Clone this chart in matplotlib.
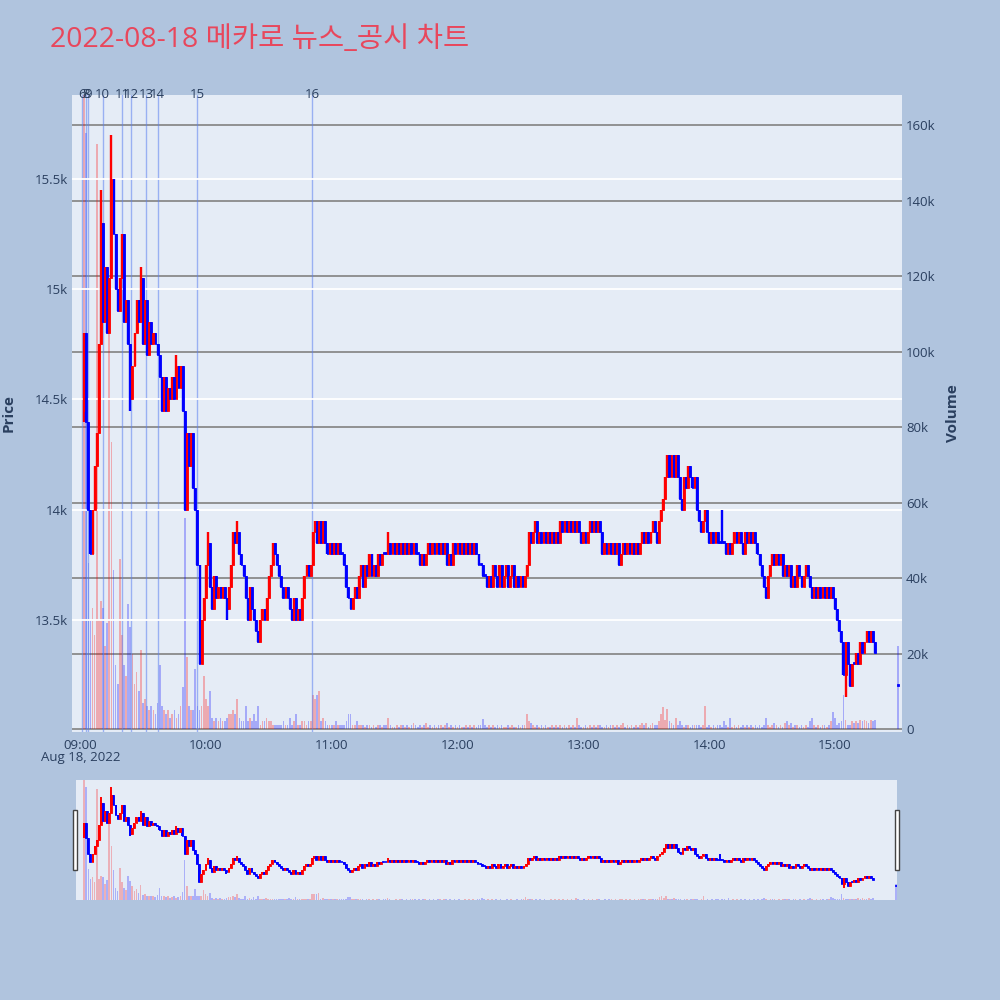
import matplotlib.pyplot as plt
from matplotlib.patches import Rectangle

plt.rcParams['font.family'] = ['Open Sans', 'DejaVu Sans']

title = "2022-08-18 메카로 뉴스_공시 차트"

# minutes after 09:00 (last bar = 15:30 closing auction)
minutes = list(range(2, 380)) + [390]
first_open = 14450
closes = [
    14800, 14400, 14000, 13800, 14000, 14200, 14350, 14750,
    15300, 14850, 15100, 14800, 15050, 15500, 15250, 15000, 14900, 15050,
    15250, 14850, 14950, 14750, 14500, 14650, 14800, 14950, 14850, 15050,
    14750, 14950, 14700, 14850, 14750, 14800, 14750, 14700, 14600, 14450,
    14600, 14450, 14550, 14500, 14600, 14500, 14650, 14550, 14650, 14450,
    14000, 14350, 14200, 14350, 14100, 14000, 13750, 13300, 13500, 13600,
    13750, 13850, 13650, 13550, 13700, 13600, 13650, 13600, 13650, 13600,
    13550, 13650, 13750, 13900, 13850, 13900, 13800, 13750, 13700, 13600,
    13500, 13650, 13550, 13500, 13450, 13400, 13500, 13550, 13500, 13600,
    13700, 13750, 13850, 13800, 13750, 13700, 13650, 13600, 13650, 13600,
    13550, 13500, 13600, 13500, 13550, 13500, 13600, 13700, 13750, 13700,
    13750, 13900, 13950, 13850, 13950, 13850, 13950, 13850, 13800, 13850,
    13800, 13850, 13800, 13850, 13800, 13800, 13750, 13650, 13600, 13550,
    13600, 13650, 13600, 13700, 13750, 13650, 13750, 13700, 13800, 13700,
    13750, 13700, 13800, 13750, 13800, 13800, 13800, 13850, 13800, 13850,
    13800, 13850, 13800, 13850, 13800, 13850, 13800, 13850, 13800, 13850,
    13800, 13800, 13750, 13800, 13750, 13800, 13850, 13800, 13850, 13800,
    13850, 13800, 13850, 13800, 13850, 13750, 13800, 13750, 13850, 13800,
    13850, 13800, 13850, 13800, 13850, 13800, 13850, 13800, 13850, 13800,
    13750, 13750, 13700, 13700, 13650, 13700, 13650, 13750, 13700, 13650,
    13750, 13650, 13700, 13750, 13650, 13700, 13750, 13650, 13700, 13650,
    13700, 13650, 13700, 13750, 13900, 13850, 13900, 13950, 13850, 13900,
    13850, 13900, 13850, 13900, 13850, 13900, 13850, 13900, 13850, 13950,
    13900, 13950, 13900, 13950, 13900, 13950, 13900, 13950, 13900, 13850,
    13900, 13850, 13900, 13950, 13900, 13950, 13900, 13950, 13900, 13800,
    13850, 13800, 13850, 13800, 13850, 13800, 13850, 13750, 13800, 13850,
    13800, 13850, 13800, 13850, 13800, 13850, 13800, 13850, 13900, 13850,
    13900, 13850, 13900, 13950, 13900, 13850, 13950, 14000, 14050, 14150,
    14250, 14150, 14250, 14150, 14250, 14150, 14050, 14000, 14150, 14100,
    14200, 14150, 14100, 14150, 14000, 13950, 13900, 13950, 14000, 13900,
    13850, 13900, 13850, 13900, 13850, 13850, 13850, 13850, 13800, 13850,
    13800, 13850, 13900, 13850, 13900, 13850, 13800, 13900, 13850, 13900,
    13850, 13900, 13850, 13800, 13750, 13700, 13650, 13600, 13700, 13750,
    13800, 13750, 13800, 13750, 13800, 13700, 13750, 13700, 13750, 13650,
    13700, 13650, 13750, 13700, 13650, 13700, 13750, 13700, 13650, 13600,
    13650, 13600, 13650, 13600, 13650, 13600, 13650, 13600, 13650, 13600,
    13550, 13500, 13450, 13400, 13250, 13400, 13300, 13200, 13300, 13300,
    13350, 13300, 13400, 13350, 13400, 13450, 13400, 13450, 13400, 13350,
    13200,
]
open_override = {390: 13200}
high_extra = {10: 15450, 15: 15700, 29: 15100, 46: 14700, 61: 13900,
              75: 13950, 147: 13900, 306: 14000, 2: 14800}
low_extra = {24: 14450, 70: 13500, 85: 13400, 365: 13150, 2: 14400}

# volume in thousands of shares
volumes_k = [
    168, 158, 44, 29, 32, 25, 155, 29,
    34, 32, 22, 28, 110, 76, 42, 17, 12, 45,
    25, 17, 14, 33, 27, 20, 12, 15, 10, 21,
    7, 8, 6, 5, 6, 5, 4, 7, 17, 6,
    5, 4, 5, 3, 4, 5, 3, 4, 6, 11,
    56, 19, 6, 5, 5, 16, 6, 5, 6, 14,
    8, 6, 10, 3, 2, 3, 2, 3, 2, 2,
    3, 4, 4, 5, 4, 8, 3, 2, 2, 6,
    2, 3, 2, 4, 2, 6, 1, 2, 2, 3,
    2, 2, 1, 1, 1, 1, 1, 2, 1, 1,
    3, 1, 2, 4, 1, 1, 2, 2, 1, 2,
    2, 9, 8, 9, 10, 2, 3, 2, 1, 1,
    1, 1, 2, 1, 1, 1, 1, 2, 4, 4,
    1, 1, 2, 1, 1, 1, 0.5, 1, 1, 0.5,
    1, 0.5, 1, 1, 0.5, 1, 1, 3, 1, 0.5,
    0.5, 1, 0.5, 1, 1, 0.5, 1, 0.5, 1, 1.5,
    1, 0.5, 1, 0.5, 1, 1.5, 0.5, 1, 0.5, 1,
    0.5, 1, 1, 0.5, 1, 1.5, 0.5, 1, 0.5, 1,
    0.5, 1, 0.5, 0.5, 1, 0.5, 1, 0.5, 1, 0.5,
    1, 1, 2.6, 1, 0.5, 1, 0.5, 1, 0.5, 1,
    0.5, 1, 0.5, 0.5, 1, 0.5, 1, 0.5, 0.5, 1,
    0.5, 1, 1, 4, 2, 1.5, 1, 0.5, 1, 0.5,
    1, 0.5, 1, 0.5, 0.5, 1, 0.5, 1, 0.5, 1,
    0.5, 1, 0.5, 1, 0.5, 1, 0.5, 3, 1, 0.5,
    0.5, 1, 0.5, 1, 0.5, 1, 0.5, 1, 1, 0.5,
    0.5, 1, 0.5, 1, 1, 0.5, 1, 0.5, 1, 1.5,
    0.5, 1, 0.5, 1, 0.5, 1, 0.5, 1, 1.5, 1,
    1.5, 0.5, 1, 1.5, 1, 1, 2, 4, 5.7, 2.3,
    5.3, 2, 1.5, 1, 3, 1, 2, 1, 0.5, 1,
    1, 0.5, 1, 1, 1, 1, 0.5, 1, 6.2, 0.5,
    1, 0.5, 1, 0.5, 1, 1, 0.5, 2, 1, 0.5,
    2.8, 0.5, 1, 0.5, 1, 0.5, 1, 0.5, 1, 0.5,
    1, 0.5, 1, 0.5, 1, 0.5, 1, 3, 1, 0.5,
    1, 1.5, 1, 0.5, 1, 0.5, 1.5, 2, 1, 1.5,
    0.5, 1, 1, 0.5, 1, 0.5, 1, 0.5, 2, 3,
    1, 0.5, 1, 0.5, 1, 1, 0.5, 1, 2, 4.6,
    3, 1, 1.5, 2, 9, 2.5, 1, 1, 2, 1.5,
    2, 1.5, 2.4, 2, 2.4, 2, 1.5, 2.4, 2, 2.4,
    22,
]

news_ids = ["6", "8", "9", "10", "11", "12", "13", "14", "15", "16"]
news_minutes = [0.8, 2.9, 4.0, 10.8, 20.1, 24.3, 31.6, 37.0, 55.9, 110.6]

tick_minutes = [0, 60, 120, 180, 240, 300, 360]
tick_labels = ["09:00", "10:00", "11:00", "12:00", "13:00", "14:00", "15:00"]

assert len(closes) == len(minutes) == len(volumes_k)

# ---- derived OHLC
opens, highs, lows = [], [], []
prev = first_open
for m, c in zip(minutes, closes):
    o = open_override.get(m, prev)
    opens.append(o)
    highs.append(max(o, c, high_extra.get(m, c)))
    lows.append(min(o, c, low_extra.get(m, c)))
    prev = c
RED, BLUE = '#FF0000', '#0000FF'
cols = [RED if c > o else BLUE for o, c in zip(opens, closes)]
vols = [v * 1000 for v in volumes_k]

TXT = '#2a3f5f'
PLOT_BG = '#E5ECF6'

fig = plt.figure(figsize=(10, 10), dpi=100)
fig.patch.set_facecolor('#B0C4DE')


def draw_candles(axp, lw_wick, width, min_h):
    axp.vlines(minutes, lows, highs, colors=cols, linewidth=lw_wick, zorder=3)
    bottoms = [min(o, c) for o, c in zip(opens, closes)]
    heights = [max(abs(c - o), min_h) for o, c in zip(opens, closes)]
    axp.bar(minutes, heights, bottom=bottoms, width=width, color=cols,
            edgecolor=cols, linewidth=0.6, zorder=3)


# ---- main chart: volume axes (right) underneath, price axes (left) on top
ax_v = fig.add_axes([0.072, 0.268, 0.830, 0.637])
ax_v.set_facecolor(PLOT_BG)
ax_v.bar(minutes, vols, width=0.8, color=cols, alpha=0.28, linewidth=0, zorder=1)
ax_v.set_ylim(-800, 168000)
ax_v.grid(axis='y', color='#8a8a8a', linewidth=1.3, zorder=0)
ax_v.set_axisbelow(True)
ax_v.set_xlim(-3.8, 391.9)
ax_v.set_xticks(tick_minutes)
ax_v.set_xticklabels(tick_labels)
for m in news_minutes:
    ax_v.axvline(m, color='#5b7ff0', alpha=0.55, linewidth=1, zorder=2)
for lab, m in zip(news_ids, news_minutes):
    ax_v.text(m, 1.0, lab, transform=ax_v.get_xaxis_transform(), ha='center',
              va='center', fontsize=9.5, color=TXT, clip_on=False)

ax_p = ax_v.twinx()
ax_p.set_ylim(12992, 15881)
ax_p.set_yticks([13500, 14000, 14500, 15000, 15500])
ax_p.set_yticklabels(['13.5k', '14k', '14.5k', '15k', '15.5k'])
ax_p.grid(axis='y', color='white', linewidth=1.3)
ax_p.set_axisbelow(True)
draw_candles(ax_p, 1.7, 0.9, 8)

# price ticks on the left, volume ticks on the right
ax_p.yaxis.tick_left()
ax_v.yaxis.tick_right()
ax_v.set_yticks(range(0, 160001, 20000))
ax_v.set_yticklabels(['0'] + [f'{k}k' for k in range(20, 161, 20)])

for a in (ax_v, ax_p):
    for s in a.spines.values():
        s.set_visible(False)
    a.tick_params(length=0, labelsize=9.5, labelcolor=TXT, pad=3)
ax_v.tick_params(axis='x', pad=5)

fig.text(0.081, 0.242, "Aug 18, 2022", ha='center', va='center',
         fontsize=9.5, color=TXT)
fig.text(0.009, 0.587, "Price", rotation=90, ha='center', va='center',
         fontsize=11, fontweight='bold', color=TXT)
fig.text(0.953, 0.587, "Volume", rotation=90, ha='center', va='center',
         fontsize=11, fontweight='bold', color=TXT)
fig.text(0.050, 0.960, title, ha='left', va='center', fontsize=20.5,
         color='#E8475C', family=['Open Sans', 'Noto Sans CJK KR', 'DejaVu Sans'])

# ---- range slider
ax_s = fig.add_axes([0.076, 0.100, 0.821, 0.120])
ax_s.set_facecolor(PLOT_BG)
ax_s.bar(minutes, vols, width=0.8, color=cols, alpha=0.25, linewidth=0)
ax_s.set_ylim(0, 168000)
ax_s.set_xlim(-1.9, 390.5)
ax_s2 = ax_s.twinx()
ax_s2.set_ylim(12850, 15870)
draw_candles(ax_s2, 1.4, 0.9, 20)
for a in (ax_s, ax_s2):
    a.set_xticks([])
    a.set_yticks([])
    for s in a.spines.values():
        s.set_visible(False)

for x0 in (0.0733, 0.8950):
    fig.patches.append(Rectangle((x0, 0.130), 0.004, 0.060, transform=fig.transFigure,
                                 facecolor='white', edgecolor='#444444', linewidth=1))

fig.savefig('out.png', dpi=100, facecolor=fig.get_facecolor())
